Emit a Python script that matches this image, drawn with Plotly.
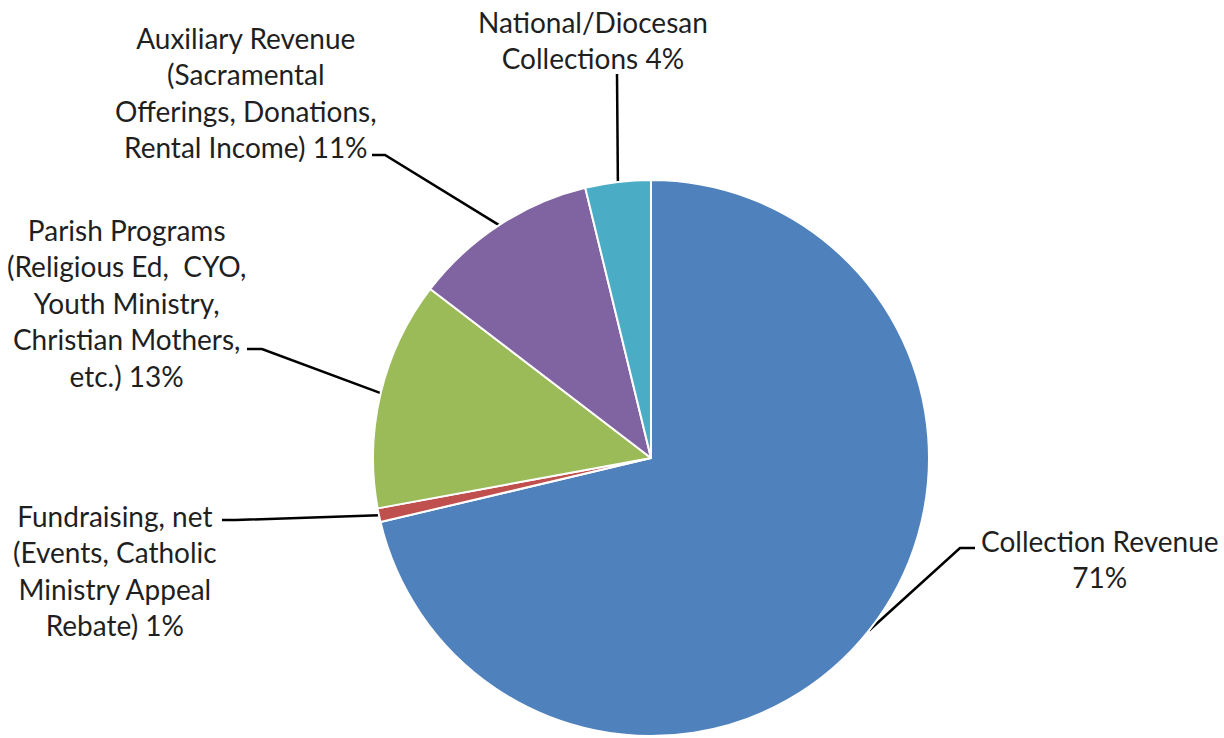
import math
import plotly.graph_objects as go

# ---- data ----
labels = [
    "Collection Revenue",
    "Fundraising, net",
    "Parish Programs",
    "Auxiliary Revenue",
    "National/Diocesan Collections",
]
values = [71.3, 0.8, 13.3, 10.8, 3.8]
pct_text = ["71%", "1%", "13%", "11%", "4%"]
label_text = [
    "Collection Revenue<br>71%",
    "Fundraising, net<br>(Events, Catholic<br>Ministry Appeal<br>Rebate) 1%",
    "Parish Programs<br>(Religious Ed,  CYO,<br>Youth Ministry,<br>Christian Mothers,<br>etc.) 13%",
    "Auxiliary Revenue<br>(Sacramental<br>Offerings, Donations,<br>Rental Income) 11%",
    "National/Diocesan<br>Collections 4%",
]
colors = ["#4F81BD", "#C0504D", "#9BBB59", "#8064A2", "#4BACC6"]

# ---- layout (pixel space) ----
W, H = 1224, 738
cx, cy, R = 651, 458, 278
# label block centres and leader elbow points (label side)
label_pos = [(1100, 559), (115, 570), (126, 303), (246, 92), (593, 40)]
elbows = [
    [(975, 548), (960, 548)],
    [(222, 520), (236, 520)],
    [(247, 349), (262, 349)],
    [(372, 155), (385, 155)],
    [(617, 74)],
]

fig = go.Figure()
fig.add_trace(go.Pie(
    labels=labels, values=values, sort=False, direction="clockwise", rotation=0,
    marker=dict(colors=colors, line=dict(color="white", width=2)),
    textinfo="none", hoverinfo="label+percent", showlegend=False,
    domain=dict(x=[(cx - R) / W, (cx + R) / W], y=[(H - cy - R) / H, (H - cy + R) / H]),
))

total = sum(values)
cum = 0.0
for i, v in enumerate(values):
    mid = (cum + v / 2) / total * 2 * math.pi
    cum += v
    ex = cx + R * math.sin(mid)
    ey = cy - R * math.cos(mid)
    pts = elbows[i] + [(ex, ey)]
    fig.add_trace(go.Scatter(
        x=[p[0] for p in pts], y=[p[1] for p in pts], mode="lines",
        line=dict(color="black", width=2.5), hoverinfo="skip", showlegend=False,
    ))
    fig.add_annotation(
        x=label_pos[i][0], y=label_pos[i][1], xref="x", yref="y",
        text=label_text[i], showarrow=False, align="center",
        xanchor="center", yanchor="middle",
        font=dict(family="Lato", size=28, color="#1f1f1f"),
    )

fig.update_layout(
    width=W, height=H, margin=dict(l=0, r=0, t=0, b=0),
    paper_bgcolor="white", plot_bgcolor="rgba(0,0,0,0)",
    xaxis=dict(range=[0, W], visible=False, fixedrange=True),
    yaxis=dict(range=[H, 0], visible=False, fixedrange=True),
)
fig.write_html("out.html")
